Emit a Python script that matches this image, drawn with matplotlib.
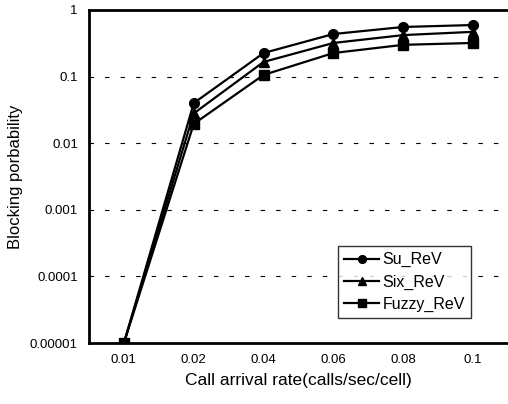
import numpy as np
import matplotlib.pyplot as plt

plt.rcParams['font.family'] = ['Liberation Sans', 'DejaVu Sans']

# Datos
rates = ['0.01', '0.02', '0.04', '0.06', '0.08', '0.1']
su_rev = [0.00001, 0.040, 0.226, 0.436, 0.556, 0.595]
six_rev = [0.00001, 0.028, 0.166, 0.32, 0.42, 0.47]
fuzzy_rev = [0.00001, 0.0195, 0.106, 0.226, 0.30, 0.32]
y_ticks = [0.00001, 0.0001, 0.001, 0.01, 0.1, 1]
y_labels = ['0.00001', '0.0001', '0.001', '0.01', '0.1', '1']

x = np.arange(len(rates))

fig = plt.figure(figsize=(5.08, 4.04), dpi=100)
ax = fig.add_axes([89 / 508, 1 - 343 / 404, 1 - 89 / 508, 333 / 404])

ax.plot(x, su_rev, color='black', lw=1.6, marker='o', ms=7, label='Su_ReV')
ax.plot(x, six_rev, color='black', lw=1.6, marker='^', ms=7, label='Six_ReV')
ax.plot(x, fuzzy_rev, color='black', lw=1.6, marker='s', ms=7, label='Fuzzy_ReV')

ax.set_yscale('log')
ax.set_ylim(0.00001, 1)
ax.set_xlim(-0.5, len(rates) - 0.5)
ax.set_yticks(y_ticks)
ax.set_yticklabels(y_labels)
ax.minorticks_off()
ax.set_xticks(x)
ax.set_xticklabels(rates)
ax.tick_params(length=0, labelsize=9.5, pad=8)

for v in y_ticks[1:-1]:
    ax.axhline(v, color='black', lw=0.8, ls=(0, (4, 10)), zorder=0)

for s in ['left', 'bottom', 'top']:
    ax.spines[s].set_linewidth(2)
ax.spines['right'].set_visible(False)

ax.set_xlabel('Call arrival rate(calls/sec/cell)', fontsize=12.5, labelpad=5)
ax.set_ylabel('Blocking porbability', fontsize=12, labelpad=5)

leg = ax.legend(loc='lower left', bbox_to_anchor=(0.575, 0.05), fancybox=False,
                edgecolor='black', fontsize=11.5, handlelength=2.2, markerscale=0.8,
                borderpad=0.4, labelspacing=0.45, handletextpad=0.2)
leg.get_frame().set_linewidth(1)

fig.savefig('out.png', dpi=100)
